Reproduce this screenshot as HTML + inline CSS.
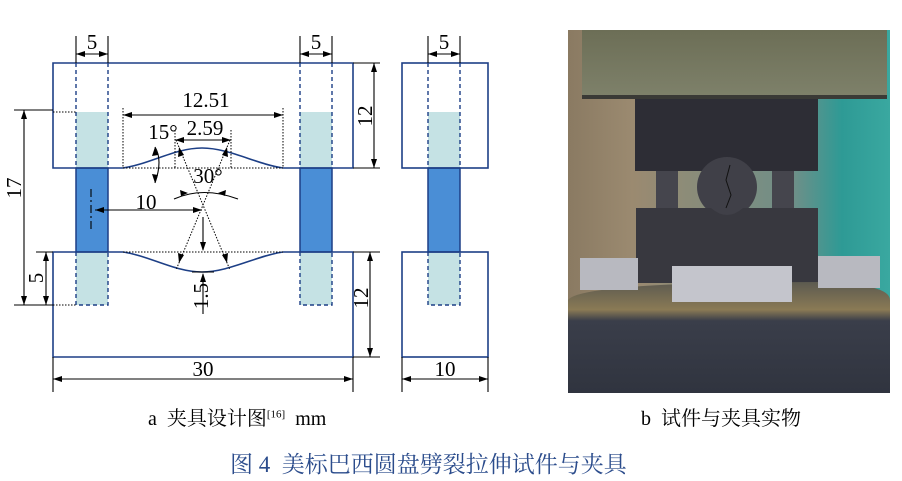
<!DOCTYPE html>
<html><head><meta charset="utf-8"><style>
body{margin:0;background:#fff;width:902px;height:481px;overflow:hidden;position:relative;font-family:"Liberation Serif","Noto Serif CJK SC",serif}
.t{position:absolute;white-space:nowrap}
</style></head><body>
<svg width="902" height="481" style="position:absolute;left:0;top:0" font-family="Liberation Serif, serif">
<rect x="76" y="112" width="32" height="56" fill="#c5e2e4"/>
<rect x="300" y="112" width="32" height="56" fill="#c5e2e4"/>
<rect x="76" y="252" width="32" height="53" fill="#c5e2e4"/>
<rect x="300" y="252" width="32" height="53" fill="#c5e2e4"/>
<rect x="76" y="168" width="32" height="84" fill="#4a8ed6" stroke="#1d3f86" stroke-width="1.5"/>
<rect x="300" y="168" width="32" height="84" fill="#4a8ed6" stroke="#1d3f86" stroke-width="1.5"/>
<rect x="428" y="112" width="32" height="56" fill="#c5e2e4"/>
<rect x="428" y="252" width="32" height="53" fill="#c5e2e4"/>
<rect x="428" y="168" width="32" height="84" fill="#4a8ed6" stroke="#1d3f86" stroke-width="1.5"/>
<g fill="none" stroke="#1d3f86" stroke-width="1.6">
<path d="M123,168 H53 V63 H353 V168 H283"/>
<path d="M123,168 C150,164 175,148 202,148 C229,148 256,164 283,168"/>
<path d="M123,252 H53 V357 H353 V252 H283"/>
<path d="M123,252 C150,256 175,272 202,272 C229,272 256,256 283,252"/>
<rect x="402" y="63" width="86" height="105"/>
<rect x="402" y="252" width="86" height="105"/>
</g>
<g stroke="#1d3f86" stroke-width="1.4" stroke-dasharray="4,3" fill="none">
<path d="M76,63 V168 M108,63 V168 M300,63 V168 M332,63 V168 M428,63 V168 M460,63 V168"/>
<path d="M76,252 V305 H108 V252 M300,252 V305 H332 V252 M428,252 V305 H460 V252"/>
</g>
<g stroke="#000" stroke-width="1" stroke-dasharray="1.5,1.5" fill="none">
<path d="M53,112 H76 M53,305 H76 M123,168 H283 M123,252 H283 M123,108 V168 M283,108 V168 M175,130 V168 M231,130 V168"/>
<path d="M176,140 L230,270 M230,140 L176,270"/>
</g>
<g stroke="#000" stroke-width="1.1" fill="none">
<path d="M76,36 V63 M108,36 V63 M300,36 V63 M332,36 V63 M428,36 V63 M460,36 V63"/>
<path d="M76,54 H108 M300,54 H332 M428,54 H460"/>
<path d="M353,63 H380 M353,168 H380 M353,252 H380 M353,357 H380 M14,110 H53 M14,305 H53 M36,252 H53"/>
<path d="M374,63 V168 M370,252 V357 M24,110 V305 M46,252 V305"/>
<path d="M53,357 V392 M353,357 V392 M402,357 V392 M488,357 V392"/>
<path d="M53,379 H353 M402,379 H488 M123,115 H283 M175,140 H231 M95,210 H202"/>
<path d="M203,217 V250 M203,314 V274"/>
<path d="M192,272 H214"/>
<path d="M174,199 Q203,186 238,199 M155,147 Q163,160 155,183"/>
<path d="M91,189 V232" stroke-dasharray="8,3,2,3"/>
</g>
<g fill="#000">
<polygon points="76,54 85,51 85,57"/><polygon points="108,54 99,51 99,57"/>
<polygon points="300,54 309,51 309,57"/><polygon points="332,54 323,51 323,57"/>
<polygon points="428,54 437,51 437,57"/><polygon points="460,54 451,51 451,57"/>
<polygon points="123,115 132,112 132,118"/><polygon points="283,115 274,112 274,118"/>
<polygon points="175,140 184,137 184,143"/><polygon points="231,140 222,137 222,143"/>
<polygon points="95,210 104,207 104,213"/><polygon points="202,210 193,207 193,213"/>
<polygon points="53,379 62,376 62,382"/><polygon points="353,379 344,376 344,382"/>
<polygon points="402,379 411,376 411,382"/><polygon points="488,379 479,376 479,382"/>
<polygon points="374,63 371,72 377,72"/><polygon points="374,168 371,159 377,159"/>
<polygon points="370,252 367,261 373,261"/><polygon points="370,357 367,348 373,348"/>
<polygon points="24,110 21,119 27,119"/><polygon points="24,305 21,296 27,296"/>
<polygon points="46,252 43,261 49,261"/><polygon points="46,305 43,296 49,296"/>
<polygon points="203,251 200,242 206,242"/><polygon points="203,273 200,282 206,282"/>
<polygon points="179,147 178,157 184,155"/><polygon points="227,147 222,155 228,157"/>
<polygon points="179,263 178,253 184,255"/><polygon points="227,263 222,255 228,253"/>
<polygon points="188,193 180,190 181,196"/><polygon points="218,193 226,190 225,196"/>
<polygon points="155,147 152,156 158,155"/><polygon points="155,183 152,174 158,175"/>
</g>
<g font-size="21" fill="#000" text-anchor="middle">
<text x="92" y="49">5</text><text x="316" y="49">5</text><text x="444" y="49">5</text>
<text x="206" y="107">12.51</text><text x="205" y="135">2.59</text>
<text x="163" y="139">15°</text><text x="208" y="183">30°</text>
<text x="146" y="209">10</text>
<text x="203" y="376">30</text><text x="445" y="376">10</text>
<text transform="translate(372,116) rotate(-90)">12</text>
<text transform="translate(368,298) rotate(-90)">12</text>
<text transform="translate(21,188) rotate(-90)">17</text>
<text transform="translate(43,278) rotate(-90)">5</text>
<text transform="translate(208,296) rotate(-90)">1.5</text>
</g>
<defs>
<linearGradient id="bg" x1="0" x2="1"><stop offset="0" stop-color="#8a7a62"/><stop offset=".2" stop-color="#9b8a70"/><stop offset=".7" stop-color="#6f8f88"/><stop offset=".85" stop-color="#2e9a95"/><stop offset="1" stop-color="#3aa8a0"/></linearGradient>
<linearGradient id="top" x1="0" y1="0" x2="0" y2="1"><stop offset="0" stop-color="#6c6e56"/><stop offset="1" stop-color="#7e816a"/></linearGradient>
<linearGradient id="base" x1="0" y1="0" x2="0" y2="1"><stop offset="0" stop-color="#5c5a50"/><stop offset=".25" stop-color="#8a7a55"/><stop offset=".35" stop-color="#3a3e4a"/><stop offset="1" stop-color="#30343f"/></linearGradient>
</defs>
<rect x="568" y="30" width="322" height="363" fill="url(#bg)"/>
<rect x="582" y="30" width="305" height="67" fill="url(#top)"/>
<rect x="582" y="95" width="305" height="4" fill="#3a3a36"/>
<rect x="635" y="99" width="183" height="72" fill="#2d2d35"/>
<rect x="656" y="171" width="22" height="40" fill="#45454d"/>
<rect x="772" y="171" width="22" height="40" fill="#45454d"/>
<circle cx="727" cy="187" r="30" fill="#404048"/>
<path d="M730,165 L726,180 L731,195 L726,208" stroke="#111" fill="none"/>
<path d="M636,208 H711 Q727,222 743,208 H818 V283 H636 Z" fill="#38383f"/>
<path d="M568,300 Q580,282 820,282 Q890,284 890,300 V393 H568 Z" fill="url(#base)"/>
<rect x="580" y="258" width="58" height="32" fill="#b8b9c0"/>
<rect x="818" y="256" width="62" height="32" fill="#b8b9c0"/>
<rect x="672" y="266" width="120" height="36" fill="#c4c5cc"/>
</svg>
<div class="t" style="left:148px;top:402px;font-size:20px">a&nbsp;&nbsp;夹具设计图<sup style="font-size:11px">[16]</sup>&nbsp;&nbsp;mm</div>
<div class="t" style="left:641px;top:402px;font-size:20px">b&nbsp;&nbsp;试件与夹具实物</div>
<div class="t" style="left:230px;top:446px;font-size:23px;color:#2b4c8c">图 4&nbsp;&nbsp;美标巴西圆盘劈裂拉伸试件与夹具</div>
</body></html>
